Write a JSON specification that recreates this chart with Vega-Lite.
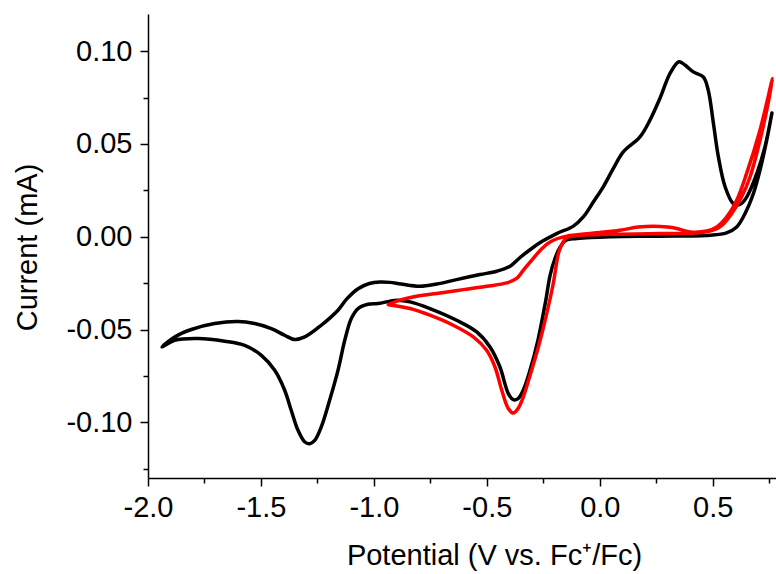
{
  "$schema": "https://vega.github.io/schema/vega-lite/v6.json",
  "width": 628,
  "height": 464,
  "autosize": {"type": "none"},
  "padding": {"left": 148, "top": 14, "right": 0, "bottom": 96},
  "background": "white",
  "config": {
    "view": {"stroke": null},
    "font": "Liberation Sans",
    "axis": {
      "grid": false,
      "domainColor": "black",
      "domainWidth": 1.5,
      "tickColor": "black",
      "tickWidth": 1.5,
      "labelColor": "black",
      "titleColor": "black",
      "labelFont": "Liberation Sans",
      "titleFont": "Liberation Sans",
      "labelFontSize": 29,
      "titleFontSize": 29,
      "titleFontWeight": "normal"
    }
  },
  "data": {"values": [
    {"s":"black","i":1,"x":0.762,"y":0.0667},
    {"s":"black","i":2,"x":0.739,"y":0.052},
    {"s":"black","i":3,"x":0.709,"y":0.0358},
    {"s":"black","i":4,"x":0.680,"y":0.0233},
    {"s":"black","i":5,"x":0.643,"y":0.0125},
    {"s":"black","i":6,"x":0.606,"y":0.0053},
    {"s":"black","i":7,"x":0.561,"y":0.0021},
    {"s":"black","i":8,"x":0.486,"y":0.0008},
    {"s":"black","i":9,"x":0.266,"y":0.0003},
    {"s":"black","i":10,"x":0.045,"y":0.0},
    {"s":"black","i":11,"x":-0.102,"y":-0.001},
    {"s":"black","i":12,"x":-0.150,"y":-0.0019},
    {"s":"black","i":13,"x":-0.176,"y":-0.0057},
    {"s":"black","i":14,"x":-0.198,"y":-0.0116},
    {"s":"black","i":15,"x":-0.220,"y":-0.0208},
    {"s":"black","i":16,"x":-0.239,"y":-0.0342},
    {"s":"black","i":17,"x":-0.274,"y":-0.0558},
    {"s":"black","i":18,"x":-0.309,"y":-0.072},
    {"s":"black","i":19,"x":-0.339,"y":-0.0827},
    {"s":"black","i":20,"x":-0.362,"y":-0.0872},
    {"s":"black","i":21,"x":-0.383,"y":-0.0878},
    {"s":"black","i":22,"x":-0.405,"y":-0.0845},
    {"s":"black","i":23,"x":-0.442,"y":-0.0702},
    {"s":"black","i":24,"x":-0.486,"y":-0.0594},
    {"s":"black","i":25,"x":-0.545,"y":-0.0513},
    {"s":"black","i":26,"x":-0.634,"y":-0.045},
    {"s":"black","i":27,"x":-0.752,"y":-0.0387},
    {"s":"black","i":28,"x":-0.840,"y":-0.0351},
    {"s":"black","i":29,"x":-0.899,"y":-0.0342},
    {"s":"black","i":30,"x":-0.982,"y":-0.036},
    {"s":"black","i":31,"x":-1.026,"y":-0.0364},
    {"s":"black","i":32,"x":-1.070,"y":-0.0387},
    {"s":"black","i":33,"x":-1.100,"y":-0.0441},
    {"s":"black","i":34,"x":-1.129,"y":-0.0558},
    {"s":"black","i":35,"x":-1.159,"y":-0.072},
    {"s":"black","i":36,"x":-1.196,"y":-0.0881},
    {"s":"black","i":37,"x":-1.233,"y":-0.1025},
    {"s":"black","i":38,"x":-1.262,"y":-0.1097},
    {"s":"black","i":39,"x":-1.284,"y":-0.1115},
    {"s":"black","i":40,"x":-1.306,"y":-0.1106},
    {"s":"black","i":41,"x":-1.336,"y":-0.1043},
    {"s":"black","i":42,"x":-1.366,"y":-0.0935},
    {"s":"black","i":43,"x":-1.395,"y":-0.0827},
    {"s":"black","i":44,"x":-1.439,"y":-0.072},
    {"s":"black","i":45,"x":-1.498,"y":-0.0639},
    {"s":"black","i":46,"x":-1.572,"y":-0.0585},
    {"s":"black","i":47,"x":-1.660,"y":-0.0563},
    {"s":"black","i":48,"x":-1.779,"y":-0.0549},
    {"s":"black","i":49,"x":-1.882,"y":-0.0558},
    {"s":"black","i":50,"x":-1.938,"y":-0.0594},
    {"s":"black","i":51,"x":-1.882,"y":-0.054},
    {"s":"black","i":52,"x":-1.808,"y":-0.050},
    {"s":"black","i":53,"x":-1.705,"y":-0.0468},
    {"s":"black","i":54,"x":-1.602,"y":-0.0457},
    {"s":"black","i":55,"x":-1.528,"y":-0.0468},
    {"s":"black","i":56,"x":-1.454,"y":-0.0495},
    {"s":"black","i":57,"x":-1.395,"y":-0.0531},
    {"s":"black","i":58,"x":-1.351,"y":-0.0554},
    {"s":"black","i":59,"x":-1.306,"y":-0.054},
    {"s":"black","i":60,"x":-1.233,"y":-0.0477},
    {"s":"black","i":61,"x":-1.159,"y":-0.0396},
    {"s":"black","i":62,"x":-1.120,"y":-0.0335},
    {"s":"black","i":63,"x":-1.070,"y":-0.028},
    {"s":"black","i":64,"x":-1.020,"y":-0.0252},
    {"s":"black","i":65,"x":-0.973,"y":-0.0244},
    {"s":"black","i":66,"x":-0.929,"y":-0.0246},
    {"s":"black","i":67,"x":-0.880,"y":-0.0255},
    {"s":"black","i":68,"x":-0.796,"y":-0.0267},
    {"s":"black","i":69,"x":-0.722,"y":-0.0255},
    {"s":"black","i":70,"x":-0.634,"y":-0.0231},
    {"s":"black","i":71,"x":-0.530,"y":-0.0204},
    {"s":"black","i":72,"x":-0.456,"y":-0.0186},
    {"s":"black","i":73,"x":-0.397,"y":-0.0159},
    {"s":"black","i":74,"x":-0.353,"y":-0.0112},
    {"s":"black","i":75,"x":-0.300,"y":-0.0062},
    {"s":"black","i":76,"x":-0.255,"y":-0.0025},
    {"s":"black","i":77,"x":-0.191,"y":0.0017},
    {"s":"black","i":78,"x":-0.117,"y":0.0057},
    {"s":"black","i":79,"x":-0.073,"y":0.0107},
    {"s":"black","i":80,"x":-0.028,"y":0.0188},
    {"s":"black","i":81,"x":0.016,"y":0.027},
    {"s":"black","i":82,"x":0.060,"y":0.0368},
    {"s":"black","i":83,"x":0.104,"y":0.0457},
    {"s":"black","i":84,"x":0.178,"y":0.0538},
    {"s":"black","i":85,"x":0.222,"y":0.0628},
    {"s":"black","i":86,"x":0.266,"y":0.0745},
    {"s":"black","i":87,"x":0.311,"y":0.088},
    {"s":"black","i":88,"x":0.350,"y":0.0943},
    {"s":"black","i":89,"x":0.377,"y":0.0925},
    {"s":"black","i":90,"x":0.414,"y":0.0888},
    {"s":"black","i":91,"x":0.458,"y":0.0861},
    {"s":"black","i":92,"x":0.480,"y":0.079},
    {"s":"black","i":93,"x":0.503,"y":0.061},
    {"s":"black","i":94,"x":0.525,"y":0.043},
    {"s":"black","i":95,"x":0.555,"y":0.0268},
    {"s":"black","i":96,"x":0.591,"y":0.0179},
    {"s":"black","i":97,"x":0.621,"y":0.0174},
    {"s":"black","i":98,"x":0.651,"y":0.0215},
    {"s":"black","i":99,"x":0.695,"y":0.034},
    {"s":"black","i":100,"x":0.731,"y":0.0484},
    {"s":"black","i":101,"x":0.762,"y":0.0667},
    {"s":"red","i":1,"x":-0.936,"y":-0.0366},
    {"s":"red","i":2,"x":-0.885,"y":-0.0342},
    {"s":"red","i":3,"x":-0.811,"y":-0.0321},
    {"s":"red","i":4,"x":-0.707,"y":-0.0303},
    {"s":"red","i":5,"x":-0.604,"y":-0.0285},
    {"s":"red","i":6,"x":-0.501,"y":-0.0267},
    {"s":"red","i":7,"x":-0.412,"y":-0.0249},
    {"s":"red","i":8,"x":-0.368,"y":-0.0225},
    {"s":"red","i":9,"x":-0.338,"y":-0.018},
    {"s":"red","i":10,"x":-0.300,"y":-0.0125},
    {"s":"red","i":11,"x":-0.265,"y":-0.0075},
    {"s":"red","i":12,"x":-0.220,"y":-0.0028},
    {"s":"red","i":13,"x":-0.146,"y":0.0003},
    {"s":"red","i":14,"x":-0.043,"y":0.0017},
    {"s":"red","i":15,"x":0.089,"y":0.0035},
    {"s":"red","i":16,"x":0.170,"y":0.0052},
    {"s":"red","i":17,"x":0.237,"y":0.0057},
    {"s":"red","i":18,"x":0.300,"y":0.0052},
    {"s":"red","i":19,"x":0.340,"y":0.0044},
    {"s":"red","i":20,"x":0.399,"y":0.0026},
    {"s":"red","i":21,"x":0.473,"y":0.0031},
    {"s":"red","i":22,"x":0.518,"y":0.0053},
    {"s":"red","i":23,"x":0.562,"y":0.0107},
    {"s":"red","i":24,"x":0.606,"y":0.0197},
    {"s":"red","i":25,"x":0.650,"y":0.0341},
    {"s":"red","i":26,"x":0.709,"y":0.0574},
    {"s":"red","i":27,"x":0.765,"y":0.0853},
    {"s":"red","i":28,"x":0.739,"y":0.0682},
    {"s":"red","i":29,"x":0.702,"y":0.0484},
    {"s":"red","i":30,"x":0.665,"y":0.0322},
    {"s":"red","i":31,"x":0.628,"y":0.0215},
    {"s":"red","i":32,"x":0.584,"y":0.0125},
    {"s":"red","i":33,"x":0.532,"y":0.0053},
    {"s":"red","i":34,"x":0.473,"y":0.0026},
    {"s":"red","i":35,"x":0.266,"y":0.0017},
    {"s":"red","i":36,"x":0.045,"y":0.0013},
    {"s":"red","i":37,"x":-0.102,"y":0.0006},
    {"s":"red","i":38,"x":-0.147,"y":-0.0005},
    {"s":"red","i":39,"x":-0.165,"y":-0.0035},
    {"s":"red","i":40,"x":-0.182,"y":-0.0085},
    {"s":"red","i":41,"x":-0.206,"y":-0.0252},
    {"s":"red","i":42,"x":-0.235,"y":-0.0414},
    {"s":"red","i":43,"x":-0.272,"y":-0.0594},
    {"s":"red","i":44,"x":-0.311,"y":-0.0756},
    {"s":"red","i":45,"x":-0.339,"y":-0.0864},
    {"s":"red","i":46,"x":-0.362,"y":-0.0926},
    {"s":"red","i":47,"x":-0.383,"y":-0.095},
    {"s":"red","i":48,"x":-0.405,"y":-0.0926},
    {"s":"red","i":49,"x":-0.434,"y":-0.0827},
    {"s":"red","i":50,"x":-0.464,"y":-0.0702},
    {"s":"red","i":51,"x":-0.501,"y":-0.0612},
    {"s":"red","i":52,"x":-0.560,"y":-0.054},
    {"s":"red","i":53,"x":-0.649,"y":-0.0477},
    {"s":"red","i":54,"x":-0.752,"y":-0.0423},
    {"s":"red","i":55,"x":-0.840,"y":-0.0387},
    {"s":"red","i":56,"x":-0.936,"y":-0.0366}
  ]},
  "encoding": {
    "x": {
      "field": "x", "type": "quantitative",
      "scale": {"domain": [-2.0, 0.78], "nice": false, "zero": false},
      "axis": {
        "title": "Potential (V vs. Fc⁺/Fc)",
        "values": [-2.0,-1.75,-1.5,-1.25,-1.0,-0.75,-0.5,-0.25,0.0,0.25,0.5,0.75],
        "labelExpr": "abs(datum.value*2 - round(datum.value*2)) < 0.001 ? replace(format(datum.value, '.1f'), '\u2212', '-') : ''",
        "tickSize": {"condition": {"test": "abs(datum.value*2 - round(datum.value*2)) < 0.001", "value": 8}, "value": 5},
        "labelPadding": 7,
        "labelBaseline": "top",
        "labelFlush": false,
        "labelOverlap": false,
        "titleX": 346,
        "titleY": 86,
        "titleAlign": "center",
        "titleBaseline": "alphabetic"
      }
    },
    "y": {
      "field": "y", "type": "quantitative",
      "scale": {"domain": [-0.13, 0.12], "nice": false, "zero": false},
      "axis": {
        "title": "Current (mA)",
        "values": [-0.125,-0.1,-0.075,-0.05,-0.025,0.0,0.025,0.05,0.075,0.1],
        "labelExpr": "abs(datum.value*20 - round(datum.value*20)) < 0.001 ? replace(format(datum.value, '.2f'), '\u2212', '-') : ''",
        "tickSize": {"condition": {"test": "abs(datum.value*20 - round(datum.value*20)) < 0.001", "value": 8}, "value": 5},
        "labelPadding": 8,
        "labelFlush": false,
        "labelOverlap": false,
        "titleX": -112,
        "titleY": 233,
        "titleAngle": 270,
        "titleAlign": "center",
        "titleBaseline": "alphabetic"
      }
    },
    "order": {"field": "i", "type": "quantitative"}
  },
  "layer": [
    {
      "transform": [{"filter": "datum.s === 'black'"}],
      "mark": {"type": "line", "color": "black", "strokeWidth": 3.5, "interpolate": "catmull-rom", "strokeJoin": "round", "strokeCap": "round", "clip": false}
    },
    {
      "transform": [{"filter": "datum.s === 'red'"}],
      "mark": {"type": "line", "color": "#ff0000", "strokeWidth": 3.5, "interpolate": "catmull-rom", "strokeJoin": "round", "strokeCap": "round", "clip": false}
    }
  ]
}
